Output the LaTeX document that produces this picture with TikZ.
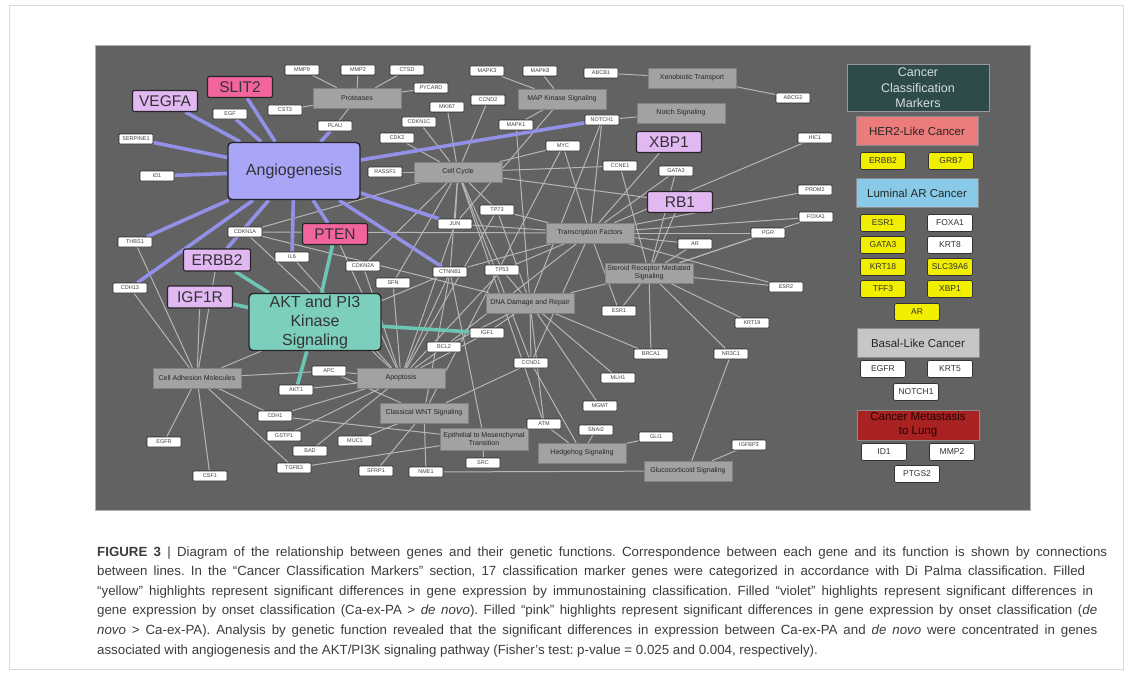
\documentclass[tikz,border=0pt]{standalone}
\usepackage{fontspec}
\setmainfont{Liberation Sans}
\pgfdeclarelayer{bg}
\pgfdeclarelayer{edges}
\pgfsetlayers{bg,edges,main}
\definecolor{panel}{HTML}{626262}
\definecolor{catfill}{HTML}{A2A2A2}
\definecolor{catdraw}{HTML}{828282}
\definecolor{gedgec}{HTML}{B6B6B6}
\definecolor{vioedge}{HTML}{9390E8}
\definecolor{tealedge}{HTML}{6CC6B3}
\definecolor{angiofill}{HTML}{A9A5F7}
\definecolor{aktfill}{HTML}{7DCFBD}
\definecolor{violetfill}{HTML}{E2B8F2}
\definecolor{pinkfill}{HTML}{F2649E}
\definecolor{ccmfill}{HTML}{2E4A4A}
\definecolor{ccmtext}{HTML}{D5DEDE}
\definecolor{her2fill}{HTML}{EC7B7B}
\definecolor{lumfill}{HTML}{89CAE8}
\definecolor{basfill}{HTML}{C6C6C6}
\definecolor{metfill}{HTML}{A82222}
\definecolor{yel}{HTML}{F2EE00}
\definecolor{captc}{HTML}{3C3C3C}
\tikzset{
  gene/.style={draw=black!85, fill=white, line width=0.6pt, rounded corners=1pt, minimum width=34pt, minimum height=10pt, inner sep=0pt, font=\fontsize{5.5}{6}\selectfont, text=black!75},
  cat/.style={draw=catdraw, fill=catfill, line width=0.6pt, minimum width=88pt, minimum height=20pt, inner sep=0pt, font=\fontsize{7}{8}\selectfont, text=black!85, align=center},
  hub/.style={draw=black!85, line width=1.4pt, rounded corners=4pt, minimum width=132pt, minimum height=57pt, inner sep=0pt, font=\fontsize{16}{19}\selectfont, align=center, text=black!80},
  hi/.style={draw=black!85, line width=1.1pt, rounded corners=2pt, minimum width=65pt, minimum height=21pt, inner sep=0pt, font=\fontsize{15.5}{16}\selectfont, text=black!80},
  lhead/.style={draw=black!45, line width=0.6pt, minimum width=122pt, minimum height=29pt, inner sep=0pt, font=\fontsize{11.5}{13}\selectfont, align=center, text=black!85},
  lgene/.style={draw=black!80, line width=0.7pt, rounded corners=2pt, minimum width=45pt, minimum height=17pt, inner sep=0pt, font=\fontsize{8.5}{9}\selectfont, text=black!80},
  gedge/.style={draw=gedgec, line width=1pt},
  vedge/.style={draw=vioedge, line width=3.6pt},
  tedge/.style={draw=tealedge, line width=3.6pt},
  capt/.style={anchor=base west, inner sep=0pt, text=captc, font=\fontsize{13.3}{14}\selectfont\frenchspacing}
}
\begin{document}
\begin{tikzpicture}[x=1pt,y=-1pt]
\useasboundingbox (0,0) rectangle (1131,674);
\begin{pgfonlayer}{bg}
\fill[white] (0,0) rectangle (1131,674);
\draw[black!15, line width=0.8pt] (9,5) rectangle (1123,669);
\fill[panel] (95,45) rectangle (1030,510);
\draw[black!30, line width=0.6pt] (95,45) rectangle (1030,510);
\end{pgfonlayer}

% functional categories
\node[cat] (prot) at (357,98) {Proteases};
\node[cat] (mapk) at (562,99) {MAP Kinase Signaling};
\node[cat] (xeno) at (692,78) {Xenobiotic Transport};
\node[cat] (notch) at (681,113) {Notch Signaling};
\node[cat] (cc) at (458,172) {Cell Cycle};
\node[cat] (tf) at (590,233) {Transcription Factors};
\node[cat] (srm) at (649,273) {Steroid Receptor Mediated\\Signaling};
\node[cat] (dna) at (530,303) {DNA Damage and Repair};
\node[cat] (cam) at (197,378) {Cell Adhesion Molecules};
\node[cat] (apop) at (401,378) {Apoptosis};
\node[cat] (wnt) at (424,413) {Classical WNT Signaling};
\node[cat, minimum height=22pt] (emt) at (484,439) {Epithelial to Mesenchymal\\Transition};
\node[cat] (hh) at (582,453) {Hedgehog Signaling};
\node[cat] (gc) at (688,471) {Glucocorticoid Signaling};

% hubs
\node[hub, fill=angiofill] (angio) at (294,171) {Angiogenesis};
\node[hub, fill=aktfill] (akt) at (315,322) {AKT and PI3\\Kinase\\Signaling};

% highlighted genes
\node[hi, fill=violetfill] (vegfa) at (165,101) {VEGFA};
\node[hi, fill=pinkfill] (slit2) at (240,87) {SLIT2};
\node[hi, fill=pinkfill] (pten) at (335,234) {PTEN};
\node[hi, fill=violetfill, minimum width=67pt, minimum height=22pt] (erbb2) at (217,260) {ERBB2};
\node[hi, fill=violetfill, minimum height=22pt] (igf1r) at (200,297) {IGF1R};
\node[hi, fill=violetfill] (xbp1) at (669,142) {XBP1};
\node[hi, fill=violetfill] (rb1) at (680,202) {RB1};

% genes
\node[gene] (mmp9) at (302,70) {MMP9};
\node[gene] (mmp2) at (358,70) {MMP2};
\node[gene] (ctsd) at (407,70) {CTSD};
\node[gene] (pycard) at (431,88) {PYCARD};
\node[gene] (mki67) at (447,107) {MKI67};
\node[gene] (mapk3) at (487,71) {MAPK3};
\node[gene] (mapk8) at (540,71) {MAPK8};
\node[gene] (ccnd2) at (488,100) {CCND2};
\node[gene] (abcb1) at (601,73) {ABCB1};
\node[gene] (abcg2) at (793,98) {ABCG2};
\node[gene] (cdkn1c) at (419,122) {CDKN1C};
\node[gene] (cdk2) at (397,138) {CDK2};
\node[gene] (mapk1) at (516,125) {MAPK1};
\node[gene] (notch1) at (602,120) {NOTCH1};
\node[gene] (myc) at (563,146) {MYC};
\node[gene] (ccne1) at (620,166) {CCNE1};
\node[gene] (gata3) at (676,171) {GATA3};
\node[gene] (hic1) at (815,138) {HIC1};
\node[gene] (prdm2) at (815,190) {PRDM2};
\node[gene] (egf) at (230,114) {EGF};
\node[gene] (cst3) at (285,110) {CST3};
\node[gene] (plau) at (335,126) {PLAU};
\node[gene] (serpine1) at (136,139) {SERPINE1};
\node[gene] (id1) at (157,176) {ID1};
\node[gene] (rassf1) at (385,172) {RASSF1};
\node[gene] (thbs1) at (135,242) {THBS1};
\node[gene] (cdkn1a) at (245,232) {CDKN1A};
\node[gene] (il6) at (292,257) {IL6};
\node[gene] (cdkn2a) at (363,266) {CDKN2A};
\node[gene] (sfn) at (393,283) {SFN};
\node[gene] (cdh13) at (130,288) {CDH13};
\node[gene] (tp73) at (497,210) {TP73};
\node[gene] (jun) at (455,224) {JUN};
\node[gene] (foxa1) at (816,217) {FOXA1};
\node[gene] (pgr) at (768,233) {PGR};
\node[gene] (ar) at (695,244) {AR};
\node[gene] (ctnnb1) at (450,272) {CTNNB1};
\node[gene] (tp53) at (502,270) {TP53};
\node[gene] (esr2) at (786,287) {ESR2};
\node[gene] (esr1) at (619,311) {ESR1};
\node[gene] (krt19) at (752,323) {KRT19};
\node[gene] (igf1) at (487,333) {IGF1};
\node[gene] (bcl2) at (444,347) {BCL2};
\node[gene] (brca1) at (651,354) {BRCA1};
\node[gene] (nr3c1) at (731,354) {NR3C1};
\node[gene] (apc) at (329,371) {APC};
\node[gene] (akt1) at (296,390) {AKT1};
\node[gene] (cdh1) at (275,416) {CDH1};
\node[gene] (gstp1) at (284,436) {GSTP1};
\node[gene] (egfr) at (164,442) {EGFR};
\node[gene] (muc1) at (355,441) {MUC1};
\node[gene] (bad) at (310,451) {BAD};
\node[gene] (tgfb3) at (294,468) {TGFB3};
\node[gene] (sfrp1) at (376,471) {SFRP1};
\node[gene] (nme1) at (426,472) {NME1};
\node[gene] (csf1) at (210,476) {CSF1};
\node[gene] (ccnd1) at (531,363) {CCND1};
\node[gene] (mlh1) at (618,378) {MLH1};
\node[gene] (mgmt) at (600,406) {MGMT};
\node[gene] (atm) at (544,424) {ATM};
\node[gene] (snai2) at (596,430) {SNAI2};
\node[gene] (gli1) at (656,437) {GLI1};
\node[gene] (src) at (483,463) {SRC};
\node[gene] (igfbp3) at (749,445) {IGFBP3};

% legend
\node[draw=black!40, fill=ccmfill, line width=0.8pt, minimum width=142pt, minimum height=47pt, inner sep=0pt, align=center, text=ccmtext, font=\fontsize{12.5}{15.5}\selectfont] (ccm) at (918,88) {Cancer\\Classification\\Markers};
\node[lhead, fill=her2fill] (her2) at (917,131) {HER2-Like Cancer};
\node[lgene, fill=yel] (lerbb2) at (883,161) {ERBB2};
\node[lgene, fill=yel] (lgrb7) at (951,161) {GRB7};
\node[lhead, fill=lumfill] (lum) at (917,193) {Luminal AR Cancer};
\node[lgene, fill=yel] (lesr1) at (883,223) {ESR1};
\node[lgene, fill=white] (lfoxa1) at (950,223) {FOXA1};
\node[lgene, fill=yel] (lgata3) at (883,245) {GATA3};
\node[lgene, fill=white] (lkrt8) at (950,245) {KRT8};
\node[lgene, fill=yel] (lkrt18) at (883,267) {KRT18};
\node[lgene, fill=yel] (lslc) at (950,267) {SLC39A6};
\node[lgene, fill=yel] (ltff3) at (883,289) {TFF3};
\node[lgene, fill=yel] (lxbp1) at (950,289) {XBP1};
\node[lgene, fill=yel] (lar) at (917,312) {AR};
\node[lhead, fill=basfill] (basal) at (918,343) {Basal-Like Cancer};
\node[lgene, fill=white] (legfr) at (883,369) {EGFR};
\node[lgene, fill=white] (lkrt5) at (950,369) {KRT5};
\node[lgene, fill=white] (lnotch1) at (916,392) {NOTCH1};
\node[lhead, fill=metfill, minimum height=30pt, text=black!85!red, font=\fontsize{11.5}{14}\selectfont] (met) at (918,425) {Cancer Metastasis\\to Lung};
\node[lgene, fill=white] (lid1) at (884,452) {ID1};
\node[lgene, fill=white] (lmmp2) at (952,452) {MMP2};
\node[lgene, fill=white] (lptgs2) at (917,474) {PTGS2};

% connectors
\begin{pgfonlayer}{edges}
\foreach \a/\b in {prot/mmp9, prot/mmp2, prot/ctsd, prot/cst3, prot/plau, prot/pycard,
  mapk/mapk3, mapk/mapk8, mapk/mapk1, mapk/jun,
  xeno/abcb1, xeno/abcg2, notch/notch1,
  cc/cdk2, cc/cdkn1c, cc/mki67, cc/ccnd2, cc/myc, cc/ccne1, cc/rassf1, cc/rb1, cc/cdkn1a,
  cc/cdkn2a, cc/sfn, cc/tp53, cc/tp73, cc/ccnd1, cc/atm, cc/jun, cc/ctnnb1,
  tf/tp73, tf/jun, tf/myc, tf/notch1, tf/xbp1, tf/gata3, tf/hic1, tf/prdm2, tf/foxa1, tf/pgr,
  tf/ar, tf/esr2, tf/esr1, tf/ctnnb1, tf/tp53, tf/ccnd1, tf/cdkn1a, tf/bcl2,
  srm/ar, srm/pgr, srm/esr1, srm/esr2, srm/krt19, srm/nr3c1, srm/brca1, srm/rb1, srm/ccne1, srm/foxa1, srm/gata3,
  dna/tp53, dna/brca1, dna/mlh1, dna/mgmt, dna/atm, dna/ccnd1, dna/tp73, dna/notch1, dna/mapk1,
  dna/cdkn1a, dna/igf1, dna/bcl2, dna/srm,
  apop/apc, apop/akt1, apop/bcl2, apop/bad, apop/gstp1, apop/cdh1, apop/tp53, apop/cdkn2a, apop/sfn,
  apop/il6, apop/ctnnb1, apop/jun, apop/igf1, apop/cdkn1a, apop/pten, apop/tp73,
  wnt/apc, wnt/ctnnb1, wnt/sfrp1, wnt/muc1, wnt/ccnd1, wnt/nme1, wnt/myc,
  emt/tgfb3, emt/src, emt/ctnnb1, emt/cdh1,
  cam/egfr, cam/csf1, cam/cdh1, cam/tgfb3, cam/thbs1, cam/cdh13, cam/erbb2, cam/igf1r, cam/apc, cam/ctnnb1,
  hh/gli1, hh/ccnd1, hh/snai2, hh/atm,
  gc/nr3c1, gc/igfbp3, gc/nme1}
  \draw[gedge] (\a) -- (\b);
\foreach \b in {vegfa, slit2, egf, serpine1, id1, plau, notch1, thbs1, cdh13, erbb2, il6, pten, jun, ctnnb1}
  \draw[vedge] (angio) -- (\b);
\foreach \b in {pten, erbb2, igf1r, igf1, akt1}
  \draw[tedge] (akt) -- (\b);
\end{pgfonlayer}

% caption
\node[capt] (c1) at (97,556) {\makebox[1010pt][s]{\textbf{FIGURE 3} | Diagram of the relationship between genes and their genetic functions. Correspondence between each gene and its function is shown by connections}};
\node[capt] (c2) at (97,575.6) {\makebox[988pt][s]{between lines. In the “Cancer Classification Markers” section, 17 classification marker genes were categorized in accordance with Di Palma classification. Filled}};
\node[capt] (c3) at (97,595.2) {\makebox[996pt][s]{“yellow” highlights represent significant differences in gene expression by immunostaining classification. Filled “violet” highlights represent significant differences in}};
\node[capt] (c4) at (97,614.8) {\makebox[1000pt][s]{gene expression by onset classification (Ca-ex-PA > \textit{de novo}). Filled “pink” highlights represent significant differences in gene expression by onset classification (\textit{de}}};
\node[capt] (c5) at (97,634.4) {\makebox[1000pt][s]{\textit{novo} > Ca-ex-PA). Analysis by genetic function revealed that the significant differences in expression between Ca-ex-PA and \textit{de novo} were concentrated in genes}};
\node[capt] (c6) at (97,654) {associated with angiogenesis and the AKT/PI3K signaling pathway (Fisher’s test: p-value = 0.025 and 0.004, respectively).};
\end{tikzpicture}
\end{document}
